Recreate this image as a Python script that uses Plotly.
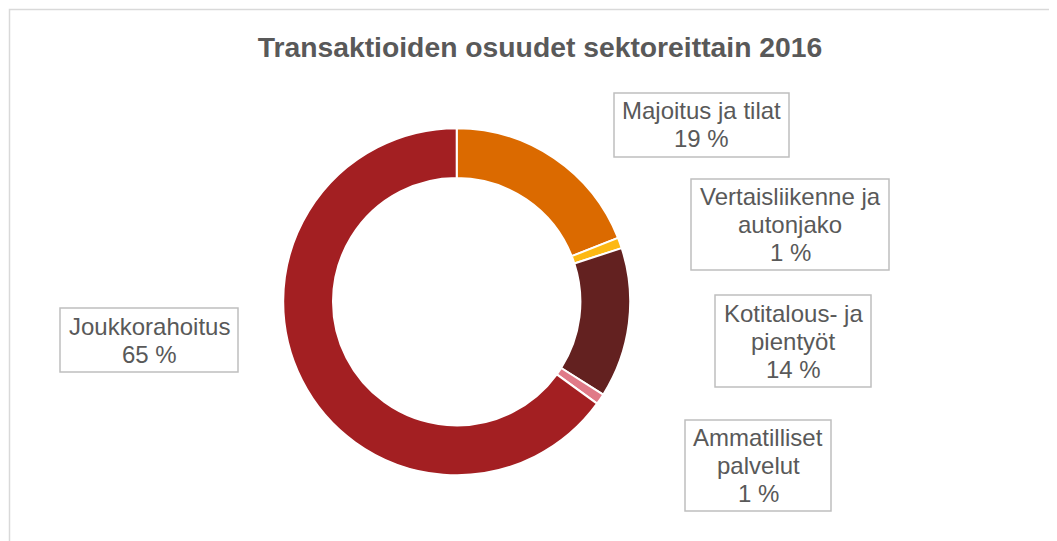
import plotly.graph_objects as go

W, H = 1057, 541
OFF = 8  # page body margin offset of the rendered figure

categories = ["Majoitus ja tilat", "Vertaisliikenne ja\nautonjako", "Kotitalous- ja\npientyöt",
              "Ammatilliset\npalvelut", "Joukkorahoitus"]
values = [19, 1, 14, 1, 65]
colors = ["#DB6A00", "#FDB913", "#632120", "#E07A88", "#A31F22"]
title = "Transaktioiden osuudet sektoreittain 2016"

# label box placement (reference pixels: left, top, right, bottom)
label_boxes = [(614, 93, 789, 157), (691, 179, 889, 270), (715, 295, 871, 387),
               (685, 420, 831, 511), (60, 308, 238, 372)]
LINE_H = 28

cx, cy, r = 456.7, 301.7, 173.5


def px(x):
    return (x - OFF) / W


def py(y):
    return 1 - (y - OFF) / H


fig = go.Figure(go.Pie(
    labels=[c.replace("\n", " ") for c in categories],
    values=values,
    sort=False,
    direction="clockwise",
    rotation=0,
    hole=0.713,
    marker=dict(colors=colors, line=dict(color="white", width=2)),
    textinfo="none",
    hoverinfo="label+percent",
    showlegend=False,
    domain=dict(x=[px(cx - r), px(cx + r)], y=[py(cy + r), py(cy - r)]),
))

annotations = []
shapes = [dict(type="rect", xref="paper", yref="paper",
               x0=px(9.5), y0=-0.05, x1=1.05, y1=py(9.5),
               line=dict(color="#D9D9D9", width=1.5), fillcolor="rgba(0,0,0,0)", layer="below")]
for cat, val, (x0, y0, x1, y1) in zip(categories, values, label_boxes):
    shapes.append(dict(type="rect", xref="paper", yref="paper",
                       x0=px(x0), x1=px(x1), y0=py(y1), y1=py(y0),
                       line=dict(color="#BFBFBF", width=1.5), fillcolor="white", layer="above"))
    lines = cat.split("\n") + [f"{val} %"]
    mid = (y0 + y1) / 2
    n = len(lines)
    for i, ln in enumerate(lines):
        yc = mid + (i - (n - 1) / 2) * LINE_H
        annotations.append(dict(
            xref="paper", yref="paper",
            x=px((x0 + x1) / 2), y=py(yc),
            xanchor="center", yanchor="middle",
            text=ln, showarrow=False,
            font=dict(family="Liberation Sans, Arial", size=24, color="#595959"),
        ))

fig.update_layout(
    width=W, height=H,
    margin=dict(l=0, r=0, t=0, b=0),
    paper_bgcolor="white",
    plot_bgcolor="white",
    title=dict(text=f"<b>{title}</b>", x=px(540), y=py(47), xanchor="center", yanchor="middle",
               font=dict(family="Liberation Sans, Arial", size=28.3, color="#595959")),
    annotations=annotations,
    shapes=shapes,
)

fig.write_html("out.html")
